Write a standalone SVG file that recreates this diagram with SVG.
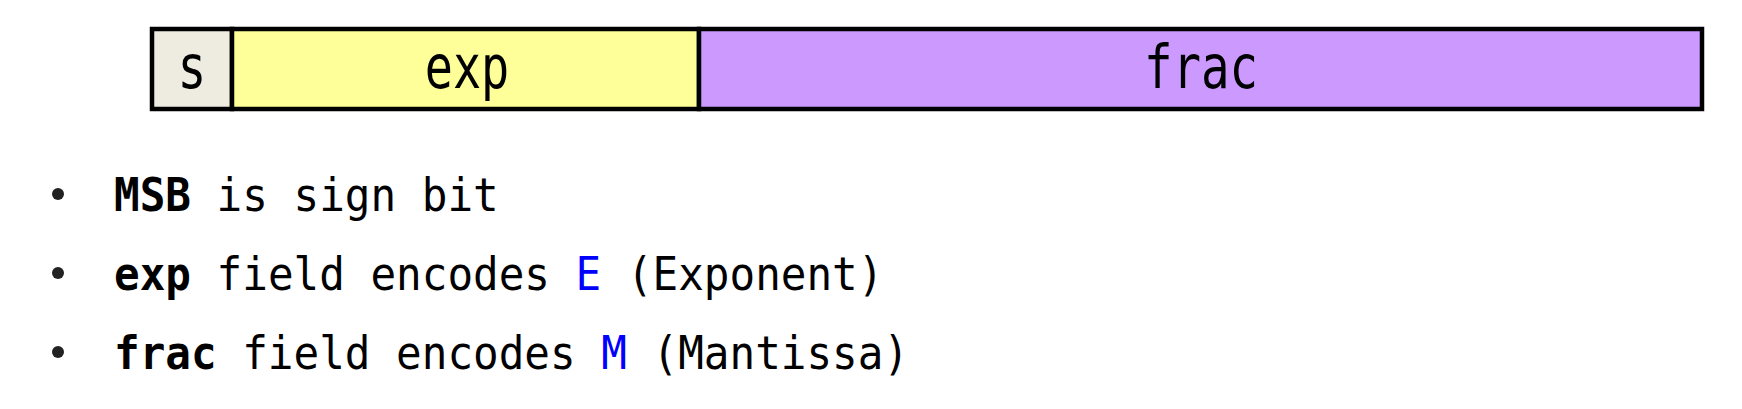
<svg xmlns="http://www.w3.org/2000/svg" width="1742" height="409" viewBox="0 0 1742 409">
<style>
.lbl{font-family:"DejaVu Sans Mono",monospace;font-size:60px;fill:#000;text-anchor:middle}
.txt{font-family:"DejaVu Sans Mono",monospace;font-size:46px;fill:#000}
.b{font-weight:bold}
.blue{fill:#0000ff}
.cell{stroke:#000;stroke-width:4.5}
.dot{fill:#222}
</style>
<rect width="1742" height="409" fill="#fff"/>
<g id="s"><rect class="cell" x="152" y="29" width="80" height="80" fill="#eeece1"/><text class="lbl" transform="translate(192 88) scale(0.8 1)">s</text></g>
<g id="exp"><rect class="cell" x="232" y="29" width="467" height="80" fill="#ffff99"/><text class="lbl" transform="translate(467 88) scale(0.78 1)">exp</text></g>
<g id="frac"><rect class="cell" x="699" y="29" width="1003" height="80" fill="#cc99ff"/><text class="lbl" transform="translate(1201 88) scale(0.79 1)">frac</text></g>
<g id="bullets">
<circle class="dot" cx="58" cy="194" r="6"/>
<circle class="dot" cx="58" cy="273" r="6"/>
<circle class="dot" cx="58" cy="352" r="6"/>
<g transform="translate(114 0) scale(0.926 1)">
<text class="txt" x="0" y="211"><tspan class="b">MSB</tspan> is sign bit</text>
<text class="txt" x="0" y="290"><tspan class="b">exp</tspan> field encodes <tspan class="blue">E</tspan> (Exponent)</text>
<text class="txt" x="0" y="369"><tspan class="b">frac</tspan> field encodes <tspan class="blue">M</tspan> (Mantissa)</text>
</g>
</g>
</svg>
